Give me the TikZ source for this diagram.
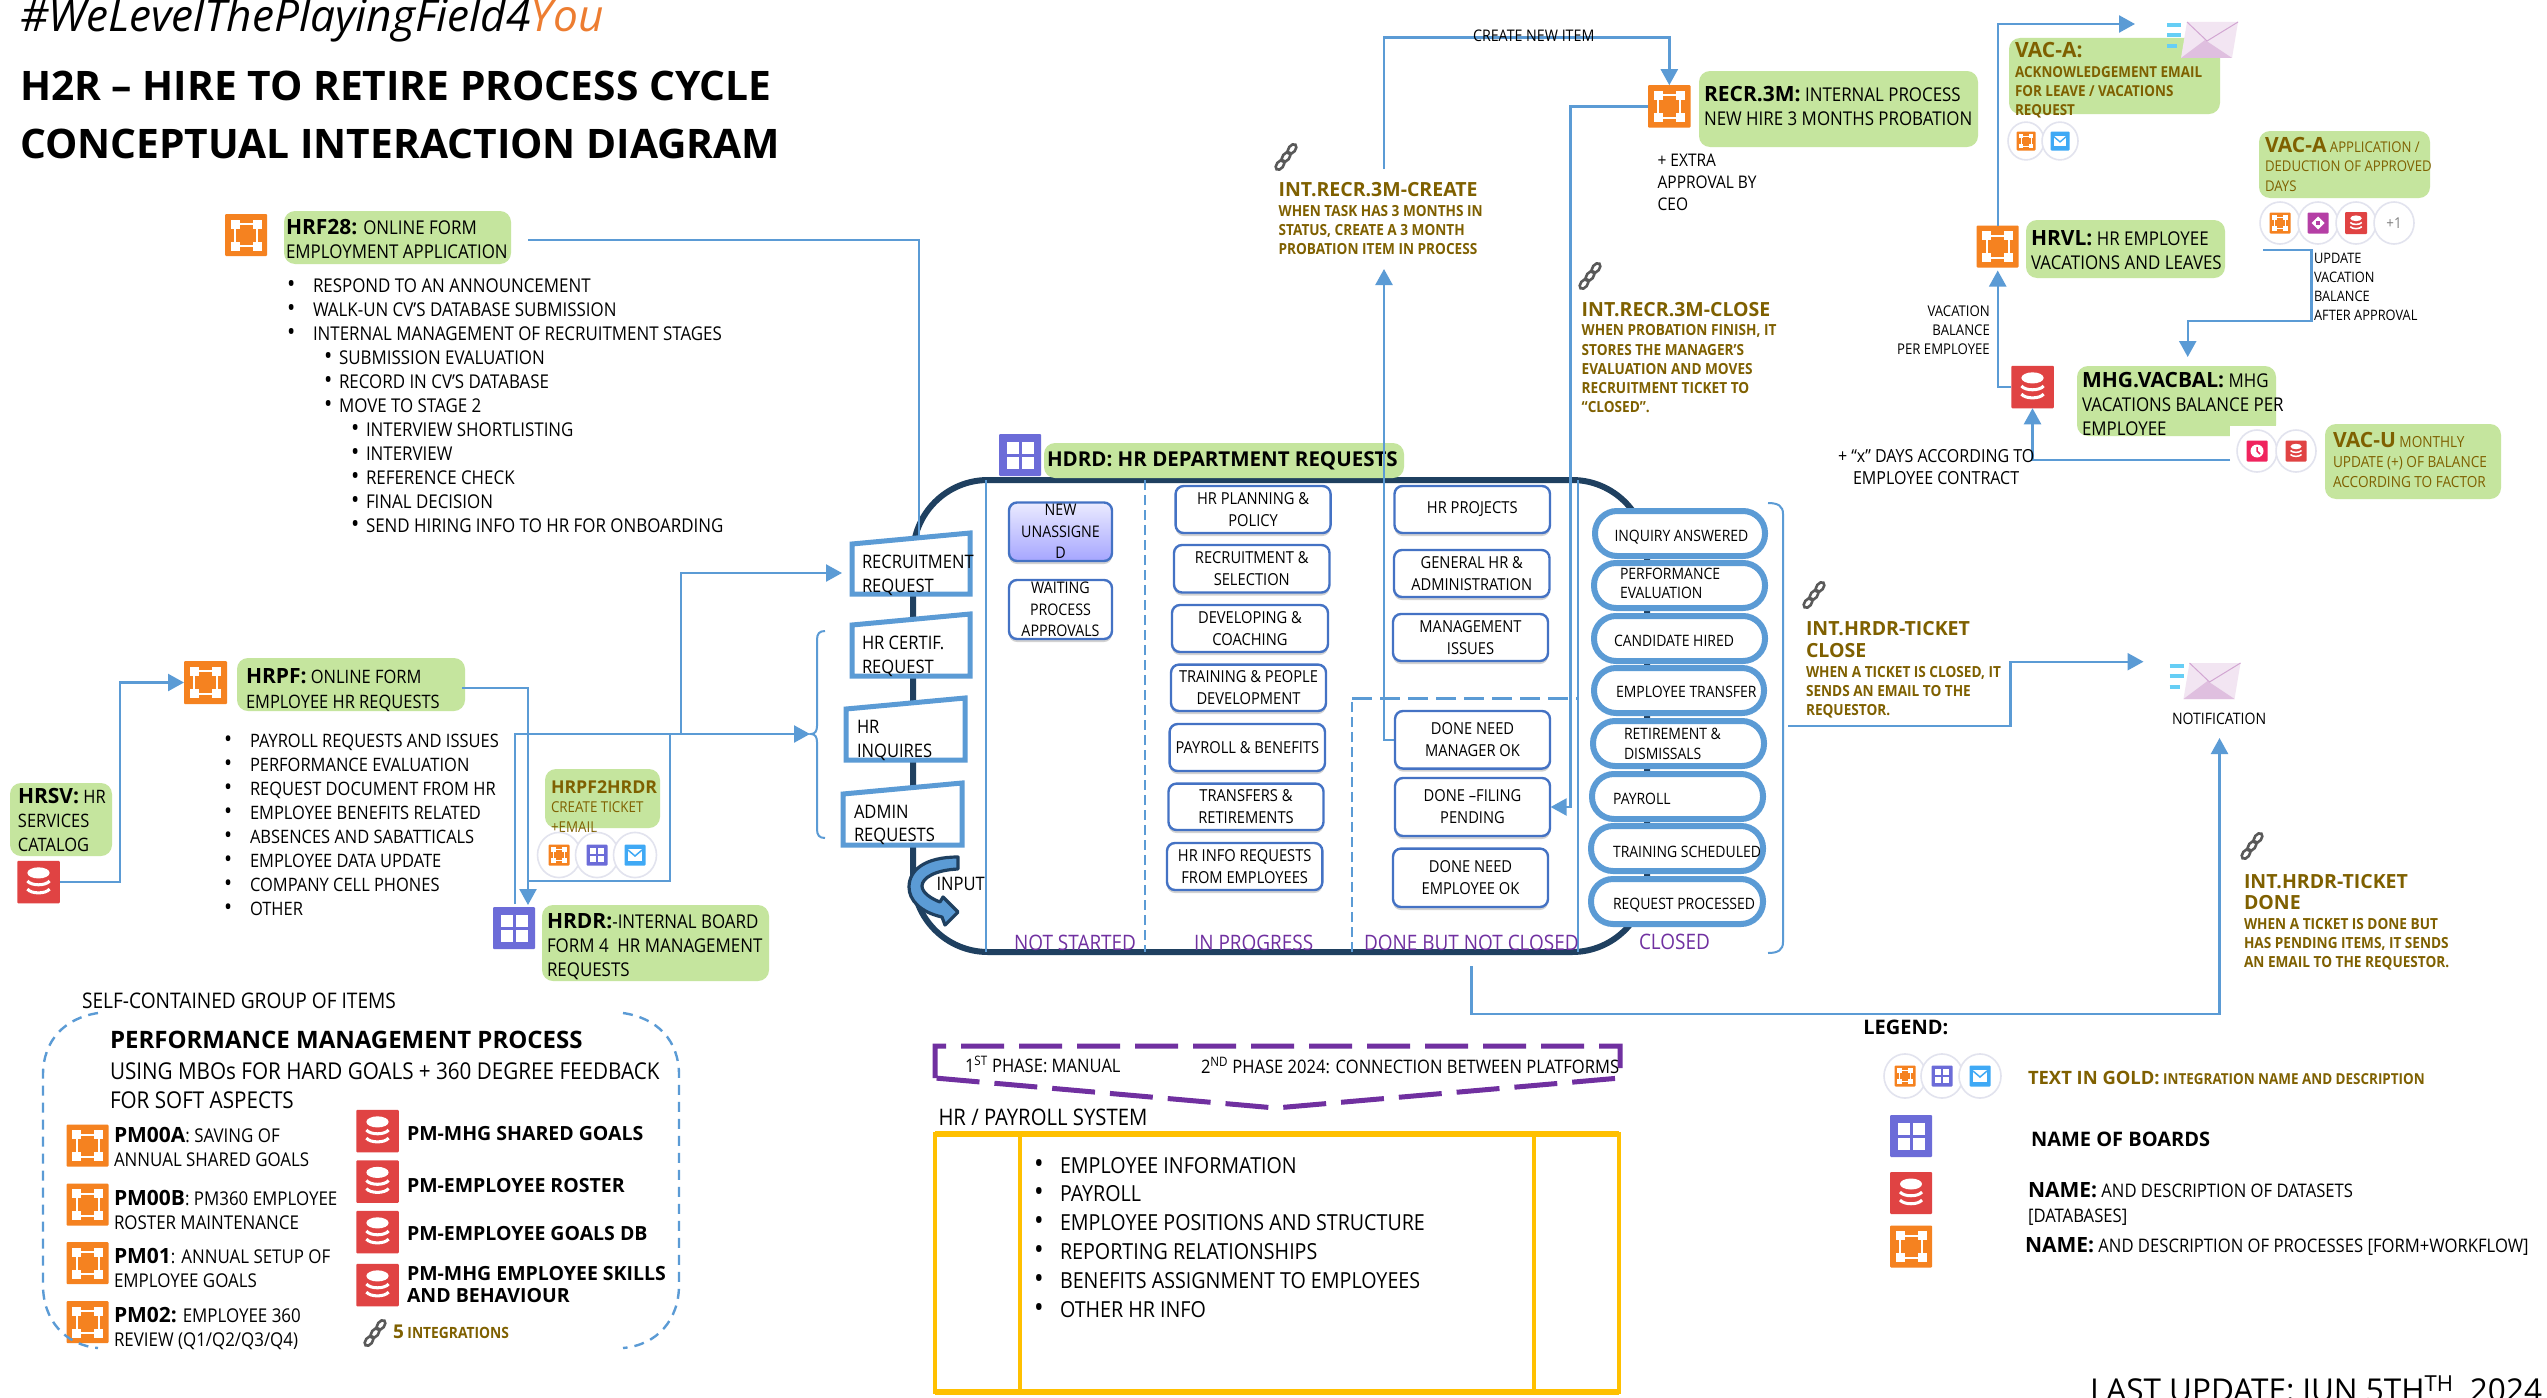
\documentclass[tikz,border=0pt]{standalone}
\usepackage{fontspec}
\setmainfont[FakeStretch=0.89]{Open Sans}
\newfontfamily\wideface{Open Sans}
\usetikzlibrary{arrows.meta,shadows,shapes.geometric}
\definecolor{lineblue}{HTML}{5B9BD5}
\definecolor{navy}{HTML}{1F4060}
\definecolor{leaf}{HTML}{C5E59E}
\definecolor{gold}{HTML}{7F6000}
\definecolor{plum}{HTML}{7030A0}
\definecolor{icoorange}{HTML}{F58220}
\definecolor{icoviolet}{HTML}{6C6CD8}
\definecolor{icored}{HTML}{E04343}
\definecolor{icoblue}{HTML}{3FA9F5}
\definecolor{icomag}{HTML}{B53FA5}
\definecolor{icopink}{HTML}{F0245E}
\definecolor{lav}{HTML}{E2E3EE}
\definecolor{boxblue}{HTML}{4472C4}
\definecolor{amber}{HTML}{FFC000}
\definecolor{youor}{HTML}{ED7D31}
\newcounter{tc}
\newcommand{\TB}[6][]{\stepcounter{tc}\node[txt,#1] (t\thetc) at (#2,#3) {\fontsize{#4}{#5}\selectfont\begin{tabular}[t]{@{}l@{}}#6\end{tabular}};}
\newcommand{\BX}[7][]{\node[#1,inner sep=0pt,outer sep=0pt,minimum width={(#5-(#3))*1pt},minimum height={(#6-(#4))*1pt}] (#2) at ({(#3+#5)/2},{(#4+#6)/2}) {#7};}
\newcommand{\bul}{\scalebox{1.3}{\textbullet}}
\newcommand{\blA}[1]{\makebox[26pt][l]{\bul}#1}
\newcommand{\blB}[1]{\hspace*{37pt}\makebox[15pt][l]{\bul}#1}
\newcommand{\blC}[1]{\hspace*{64pt}\makebox[15pt][l]{\bul}#1}
\newcommand{\bp}[1]{{\wideface\bfseries\fontsize{21}{21}\selectfont #1}}
\newcommand{\IcoProc}[4]{%
  \node[icobg,fill=icoorange,minimum size=#4*1pt] (#1) at (#2,#3) {};
  \pgfmathsetmacro\icols{#4/42}
  \begin{scope}[shift={(#2,#3)},scale=\icols]
    \draw[white,line width=\icols*2pt] (-11,-11) rectangle (11,11);
    \foreach \a/\b in {-11/-11,11/-11,-11/11,11/11}
      \fill[white] (\a-4.5,\b-4.5) rectangle (\a+4.5,\b+4.5);
  \end{scope}}
\newcommand{\IcoBoard}[4]{%
  \node[icobg,fill=icoviolet,minimum size=#4*1pt] (#1) at (#2,#3) {};
  \pgfmathsetmacro\icols{#4/42}
  \begin{scope}[shift={(#2,#3)},scale=\icols]
    \foreach \a/\b in {-7.5/-7.5,7.5/-7.5,-7.5/7.5,7.5/7.5}
      \fill[white] (\a-6,\b-6) rectangle (\a+6,\b+6);
  \end{scope}}
\newcommand{\IcoDB}[4]{%
  \node[icobg,fill=icored,minimum size=#4*1pt] (#1) at (#2,#3) {};
  \pgfmathsetmacro\icols{#4/42}
  \begin{scope}[shift={(#2,#3)},scale=\icols]
    \fill[white] (0,-9) ellipse [x radius=11,y radius=5.5];
    \draw[white,line width=\icols*3pt] (-11,-1) .. controls (-7,4) and (7,4) .. (11,-1);
    \draw[white,line width=\icols*3pt] (-11,7) .. controls (-7,12) and (7,12) .. (11,7);
  \end{scope}}
\newcommand{\IcoMail}[4]{%
  \node[icobg,fill=icoblue,minimum size=#4*1pt] (#1) at (#2,#3) {};
  \pgfmathsetmacro\icols{#4/42}
  \begin{scope}[shift={(#2,#3)},scale=\icols]
    \fill[white] (-14,-12) rectangle (14,12);
    \draw[icoblue,line width=\icols*3pt] (-14,-10) -- (0,2) -- (14,-10);
  \end{scope}}
\newcommand{\IcoMag}[4]{%
  \node[icobg,fill=icomag,minimum size=#4*1pt] (#1) at (#2,#3) {};
  \pgfmathsetmacro\icols{#4/42}
  \begin{scope}[shift={(#2,#3)},scale=\icols]
    \fill[white] (0,-13) -- (13,0) -- (0,13) -- (-13,0) -- cycle;
    \fill[icomag] (-4,-4) rectangle (4,4);
  \end{scope}}
\newcommand{\IcoClock}[4]{%
  \node[icobg,fill=icopink,minimum size=#4*1pt] (#1) at (#2,#3) {};
  \pgfmathsetmacro\icols{#4/42}
  \begin{scope}[shift={(#2,#3)},scale=\icols]
    \fill[white] (0,0) circle (13);
    \draw[icopink,line width=\icols*3pt] (0,-8) -- (0,0) -- (6,6);
  \end{scope}}
\newcommand{\Ring}[5][]{\node[ringstyle,minimum width=#5*2pt,minimum height=#5*2.1pt] (#2) at (#3,#4) {#1};}
\newcommand{\Chain}[3]{%
  \coordinate (#1) at (#2,#3);
  \begin{scope}[shift={(#2,#3)}]
    \foreach \a/\b in {-6/8,0/0,6/-8}
      \draw[gray!70!black,line width=2.6pt] (\a,\b) ellipse [x radius=5.5pt,y radius=3.4pt,rotate=52];
  \end{scope}}
\newcommand{\Envelope}[3]{%
  \coordinate (#1) at (#2,#3);
  \begin{scope}[shift={(#2,#3)}]
    \fill[violet!10] (20,1) -- (71,1) -- (65,37) -- (14,37) -- cycle;
    \fill[violet!25] (14,37) -- (38,19) -- (65,37) -- cycle;
    \draw[violet!35,line width=1pt] (20,1) -- (40,20) -- (71,1);
    \foreach \b/\c in {4/14,14/14,25/10}
      \draw[cyan!60,line width=3.5pt] (0,\b) -- (\c,\b);
  \end{scope}}
\tikzset{
  x=1pt,y=-1pt,
  txt/.style={anchor=base west,inner sep=0pt,outer sep=0pt},
  conn/.style={draw=lineblue,line width=2.4pt},
  arr/.style={-{Triangle[width=17pt,length=16pt]}},
  leafbox/.style={fill=leaf,rounded corners=11pt},
  icobg/.style={inner sep=0pt,outer sep=0pt,rounded corners=1pt},
  ringstyle/.style={ellipse,draw=lav,fill=white,line width=1.6pt,inner sep=0pt,outer sep=0pt,text=gray,font=\fontsize{15}{15}\selectfont},
  whitebox/.style={draw=boxblue,fill=white,line width=2.4pt,rounded corners=8pt,align=center,font=\fontsize{16.5}{22}\selectfont,drop shadow={shadow xshift=0pt,shadow yshift=-3pt,opacity=.35,fill=gray}},
  newbox/.style={draw=boxblue,top color=blue!8,bottom color=blue!35,line width=2.4pt,rounded corners=8pt,align=center,font=\fontsize{16}{21.5}\selectfont,drop shadow={shadow xshift=0pt,shadow yshift=-3pt,opacity=.35,fill=gray}},
  pillbox/.style={draw=lineblue,fill=white,line width=6pt,rounded corners=22pt},
  trap/.style={draw=lineblue,fill=white,line width=5pt,line join=miter},
  colline/.style={draw=lineblue,line width=1.6pt},
  coldash/.style={draw=lineblue,line width=1.6pt,dash pattern=on 10pt off 5pt},
  gold head/.style={text=gold,font=\wideface\bfseries},
  gold body/.style={text=gold,font=\bfseries},
  bold wide/.style={font=\wideface\bfseries},
}
\begin{document}
\begin{tikzpicture}
\useasboundingbox (0,0) rectangle (2547,1397);
\path[fill=white] (0,0) rectangle (2547,1397);

% ---------- header
\TB[font=\wideface\itshape]{20}{32}{44.2}{44}{\#WeLevelThePlayingField4\textcolor{youor}{You}}
\TB[bold wide]{20}{100.7}{40.7}{57.5}{H2R – HIRE TO RETIRE PROCESS CYCLE\\CONCEPTUAL INTERACTION DIAGRAM}

% ---------- main board
\draw[navy,line width=6pt,rounded corners=75pt] (913,480) rectangle (1647,952);
\BX[leafbox]{hdrdbox}{1044}{443}{1404}{478}{}
\draw[colline] (986,480) -- (986,952);
\draw[coldash] (1145,480) -- (1145,952);
\draw[coldash] (1352,952) -- (1352,698.6);
\draw[draw=lineblue,line width=2.4pt,dash pattern=on 20pt off 8pt] (1352,698.6) -- (1578,698.6);
\draw[colline] (1578,480) -- (1578,952);

% ---------- green label boxes
\BX[leafbox]{hrf28box}{284}{211}{511}{264}{}
\BX[leafbox]{hrpfbox}{237}{658}{465}{711}{}
\BX[leafbox]{hrsvbox}{10}{783}{112}{856}{}
\BX[leafbox]{ticketbox}{545}{769}{660}{828}{}
\BX[leafbox]{hrdrbox}{542}{905}{769}{981}{}
\BX[leafbox]{recrbox}{1699}{71}{1978}{147}{}
\BX[leafbox]{vacabox}{2009}{38}{2220}{114}{}
\BX[leafbox]{hrvlbox}{2026}{220}{2225}{278}{}
\BX[leafbox]{vacappbox}{2259}{131}{2430}{198}{}
\BX[leafbox]{mhgbox}{2077}{366}{2276}{436}{}
\BX[fill=white]{mhgnotch}{2230}{426}{2280}{440}{}
\BX[leafbox]{vacubox}{2325}{424}{2501}{499}{}

% ---------- icons
\IcoProc{iconhrf}{246}{235}{42}
\IcoProc{iconhrpf}{205.5}{682.5}{43}
\IcoDB{dbhrsv}{38.5}{882}{42.5}
\IcoBoard{iconhrdr}{514}{928}{42}
\IcoBoard{iconhdrd}{1020}{455}{42}
\IcoProc{iconrecr}{1669.3}{106.4}{42.5}
\IcoProc{iconhrvl}{1997.7}{246.5}{42}
\IcoDB{dbvac}{2032.5}{387}{42.5}
\IcoProc{iconpma}{87.5}{1145.5}{42}
\IcoProc{iconpmb}{87.5}{1204.5}{42}
\IcoProc{iconpmc}{87.5}{1263}{42}
\IcoProc{iconpmd}{87.5}{1322}{42}
\IcoDB{dbpma}{377.5}{1131}{42.5}
\IcoDB{dbpmb}{377.5}{1181.5}{42.5}
\IcoDB{dbpmc}{377.5}{1232}{42.5}
\IcoDB{dbpmd}{377.5}{1285}{42.5}
\IcoBoard{legboard}{1911}{1136}{42}
\IcoDB{legdb}{1911}{1193}{42}
\IcoProc{legproc}{1911}{1246.5}{42}

% ---------- connectors, left part
\coordinate (t1top) at (919,536);
\coordinate (bracein) at (810,734);
\coordinate (reqin) at (842,573);
\coordinate (ticketjoin) at (528,881);
\coordinate (hrdrup) at (515,904);
\draw[conn,arr] (dbhrsv.east) -- (120,882) -- (120,682.5) -- (iconhrpf.west);
\draw[conn] ([xshift=17pt,yshift=-2.5pt]hrf28box.east) -- (919,240) -- (t1top);
\draw[conn,arr] ([xshift=-3pt,yshift=-3.5pt]hrpfbox.east) -- (528,688) -- ([xshift=14pt,yshift=2pt]iconhrdr.north);
\draw[conn,arr] (hrdrup) -- (515,734) -- (bracein);
\draw[conn] (ticketjoin) -- (670,881) -- (670,734);
\draw[conn,arr] (681,734) -- (681,573) -- (reqin);

% ---------- connectors, probation
\coordinate (createin) at (1384,269);
\coordinate (createout) at (1384,169);
\draw[conn,arr] (1395,740) -- (1384,740) -- (createin);
\draw[conn,arr] (createout) -- (1384,37.7) -- (1669.3,37.7) -- (iconrecr.north);
\draw[conn,arr] (iconrecr.west) -- (1570.5,106.4) -- (1570.5,807) -- (1550.6,807);

% ---------- vacations connectors
\coordinate (mailin) at (2135,24);
\coordinate (vacuout) at (2230,460);
\coordinate (updout) at (2263,250);
\coordinate (mhgin) at (2187.7,357);
\draw[conn,arr] (iconhrvl.north) -- (1997.7,24) -- (mailin);
\draw[conn,arr] (dbvac.west) -- (1997.7,387) -- ([yshift=-3pt]iconhrvl.south);
\draw[conn,arr] (vacuout) -- (2032.5,460) -- (dbvac.south);
\draw[conn,arr] (updout) -- (2311.5,250) -- (2311.5,321) -- (2187.7,321) -- (mhgin);

% ---------- output connectors
\coordinate (closeout) at (1788,726);
\coordinate (notifin) at (2143.5,661.7);
\coordinate (boardout) at (1471.5,966);
\coordinate (notifup) at (2219.5,738);
\draw[conn,arr] (closeout) -- (2010.6,726) -- (2010.6,661.7) -- (notifin);
\draw[conn,arr] (boardout) -- (1471.5,1014) -- (2219.5,1014) -- (notifup);

% ---------- braces
\draw[lineblue,line width=2pt] (825,631) .. controls (819,631) and (817,634) .. (817,640) -- (817,726) .. controls (817,731) and (815,734) .. (811,734) .. controls (815,734) and (817,737) .. (817,742) -- (817,829) .. controls (817,835) and (819,838) .. (825,838);
\draw[lineblue,line width=2pt] (1768,503) .. controls (1778,503) and (1783,506) .. (1783,514) -- (1783,942) .. controls (1783,950) and (1778,953) .. (1768,953);

% ---------- input column
\draw[trap] (852,544) -- (970,533) -- (970,594) -- (852,594) -- cycle;
\draw[trap] (852,625) -- (970,614) -- (970,676) -- (852,676) -- cycle;
\draw[trap] (846,709) -- (965,698) -- (965,760) -- (846,760) -- cycle;
\draw[trap] (843,794) -- (962,783) -- (962,845) -- (843,845) -- cycle;
\TB{862}{568.6}{18.6}{24}{RECRUITMENT\\REQUEST}
\TB{862}{649}{18.6}{24.5}{HR CERTIF.\\REQUEST}
\TB{857}{733.6}{18.6}{23.5}{HR\\INQUIRES}
\TB{854}{818}{18.6}{23.5}{ADMIN\\REQUESTS}
\draw[navy,fill=lineblue,line width=3.2pt,line join=round] (958,857) -- (958,869) .. controls (935,870) and (922,878) .. (922,886) .. controls (922,893) and (932,899) .. (940,902) -- (943,897) -- (958,912) -- (945,925) -- (942,917) .. controls (920,912) and (909,900) .. (909,887) .. controls (909,870) and (925,857) .. (958,857) -- cycle;
\TB{936.5}{890}{18.6}{19}{INPUT}

% ---------- column boxes
\BX[newbox]{newitem}{1009}{502.5}{1112}{561}{NEW\\UNASSIGNE\\D}
\BX[whitebox,font=\fontsize{16}{21.5}\selectfont]{waiting}{1009}{580}{1112}{639}{WAITING\\PROCESS\\APPROVALS}
\BX[whitebox]{prga}{1175.6}{486}{1330.6}{533}{HR PLANNING \&\\POLICY}
\BX[whitebox]{prgb}{1174}{545}{1329.5}{592.5}{RECRUITMENT \&\\SELECTION}
\BX[whitebox]{prgc}{1172}{605}{1328}{652}{DEVELOPING \&\\COACHING}
\BX[whitebox]{prgd}{1171}{664.6}{1326}{711}{TRAINING \& PEOPLE\\DEVELOPMENT}
\BX[whitebox]{prge}{1169.6}{724}{1325}{771}{PAYROLL \& BENEFITS}
\BX[whitebox]{prgf}{1168.5}{783.6}{1323.5}{830}{TRANSFERS \&\\RETIREMENTS}
\BX[whitebox]{prgg}{1167}{843}{1322.4}{890}{HR INFO REQUESTS\\FROM EMPLOYEES}
\BX[whitebox]{prja}{1394.5}{486}{1550}{533}{HR PROJECTS}
\BX[whitebox]{prjb}{1394}{550}{1549.5}{597}{GENERAL HR \&\\ADMINISTRATION}
\BX[whitebox]{prjc}{1393}{614}{1548}{661}{MANAGEMENT\\ISSUES}
\BX[whitebox]{c4}{1395}{711}{1550}{768.6}{DONE NEED\\MANAGER OK}
\BX[whitebox]{c5}{1395}{778}{1550}{836}{DONE –FILING\\PENDING}
\BX[whitebox]{c6}{1393}{848.6}{1548}{907}{DONE NEED\\EMPLOYEE OK}

% ---------- closed pills
\BX[pillbox]{pa}{1595}{511}{1765}{556}{}
\BX[pillbox]{pb}{1594}{563}{1765}{608}{}
\BX[pillbox]{pc}{1594}{616}{1765}{661}{}
\BX[pillbox]{pd}{1594}{668}{1764}{713}{}
\BX[pillbox]{pe}{1593}{721}{1764}{766}{}
\BX[pillbox]{pf}{1592}{774}{1763}{819}{}
\BX[pillbox]{pg}{1591}{826}{1763}{871}{}
\BX[pillbox]{ph}{1591}{879}{1763}{924}{}
\TB{1614.5}{541.7}{15.7}{15}{INQUIRY ANSWERED}
\TB{1620}{579}{15.7}{19}{PERFORMANCE\\EVALUATION}
\TB{1614}{646}{15.7}{15}{CANDIDATE HIRED}
\TB{1616}{697}{15.7}{15}{EMPLOYEE TRANSFER}
\TB{1624}{739}{15.7}{20}{RETIREMENT \&\\DISMISSALS}
\TB{1613}{804}{15.7}{15}{PAYROLL}
\TB{1613}{857}{15.7}{15}{TRAINING SCHEDULED}
\TB{1613}{909}{15.7}{15}{REQUEST PROCESSED}

% ---------- column titles
\TB[text=plum]{1014}{950}{21.3}{21}{NOT STARTED}
\TB[text=plum]{1194}{950}{21.3}{21}{IN PROGRESS}
\TB[text=plum]{1364}{950}{21.3}{21}{DONE BUT NOT CLOSED}
\TB[text=plum]{1639}{949}{21.3}{21}{CLOSED}

% ---------- label texts
\TB[bold wide]{1047}{466}{20.5}{22}{HDRD: HR DEPARTMENT REQUESTS}
\draw[conn] (1384,443) -- (1384,478);
\TB{286}{234}{19}{24}{\bp{HRF28:} ONLINE FORM\\EMPLOYMENT APPLICATION}
\TB{287}{292}{19}{24}{\blA{RESPOND TO AN ANNOUNCEMENT}\\\blA{WALK-UN CV’S DATABASE SUBMISSION}\\\blA{INTERNAL MANAGEMENT OF RECRUITMENT STAGES}\\\blB{SUBMISSION EVALUATION}\\\blB{RECORD IN CV’S DATABASE}\\\blB{MOVE TO STAGE 2}\\\blC{INTERVIEW SHORTLISTING}\\\blC{INTERVIEW}\\\blC{REFERENCE CHECK}\\\blC{FINAL DECISION}\\\blC{SEND HIRING INFO TO HR FOR ONBOARDING}}
\TB{246}{683}{18.5}{25}{\bp{HRPF:} ONLINE FORM\\EMPLOYEE HR REQUESTS}
\TB{18}{803}{18.5}{24}{\bp{HRSV:} HR\\SERVICES\\CATALOG}
\TB{224}{747}{18.5}{24}{\blA{PAYROLL REQUESTS AND ISSUES}\\\blA{PERFORMANCE EVALUATION}\\\blA{REQUEST DOCUMENT FROM HR}\\\blA{EMPLOYEE BENEFITS RELATED}\\\blA{ABSENCES AND SABATTICALS}\\\blA{EMPLOYEE DATA UPDATE}\\\blA{COMPANY CELL PHONES}\\\blA{OTHER}}
\TB[text=gold]{551}{793}{15}{19.5}{{\wideface\bfseries\fontsize{17.7}{18}\selectfont HRPF2HRDR}\\CREATE TICKET\\+EMAIL}
\TB{547}{928}{19}{24}{\bp{HRDR:}-INTERNAL BOARD\\FORM 4\ \ HR MANAGEMENT\\REQUESTS}
\Ring{ra}{559}{855}{21.5}\IcoProc{ria}{559}{855}{21}
\Ring{rb}{597}{855}{21.5}\IcoBoard{rib}{597}{855}{21}
\Ring{rc}{635}{855}{21.5}\IcoMail{ric}{635}{855}{21}

% ---------- right part texts
\TB{1473}{42}{16}{16}{CREATE NEW ITEM}
\TB{1704}{101.7}{19}{24.3}{\bp{RECR.3M:} INTERNAL PROCESS\\NEW HIRE 3 MONTHS PROBATION}
\TB{1657.6}{166}{17.4}{22}{+ EXTRA\\APPROVAL BY\\CEO}
\Chain{chaina}{1286}{157}
\TB[gold head]{1278.6}{196}{19.5}{18}{INT.RECR.3M-CREATE}
\TB[gold body]{1278.6}{216.7}{15.3}{19}{WHEN TASK HAS 3 MONTHS IN\\STATUS, CREATE A 3 MONTH\\PROBATION ITEM IN PROCESS}
\Chain{chainb}{1590}{276}
\TB[gold head]{1581.7}{316}{19.5}{18}{INT.RECR.3M-CLOSE}
\TB[gold body]{1581.7}{335.7}{15.3}{19.3}{WHEN PROBATION FINISH, IT\\STORES THE MANAGER’S\\EVALUATION AND MOVES\\RECRUITMENT TICKET TO\\“CLOSED”.}
\Envelope{mailtop}{2167}{21}
\TB[gold body]{2015}{58}{15.1}{19.3}{{\wideface\fontsize{21}{20}\selectfont VAC-A:}\\ACKNOWLEDGEMENT EMAIL\\FOR LEAVE / VACATIONS\\REQUEST}
\Ring{rd}{2026}{141}{18}\IcoProc{rid}{2026}{141}{19}
\Ring{re}{2060}{141}{18}\IcoMail{rie}{2060}{141}{19}
\TB{2031}{245}{19}{24}{\bp{HRVL:} HR EMPLOYEE\\VACATIONS AND LEAVES}
\TB[text=gold]{2265}{152}{14.8}{19.5}{\bp{VAC-A} APPLICATION /\\DEDUCTION OF APPROVED\\DAYS}
\Ring{rf}{2280}{223}{20}\IcoProc{rif}{2280}{223}{21}
\Ring{rg}{2318}{223}{20}\IcoMag{rig}{2318}{223}{21}
\Ring{rh}{2356}{223}{20}\IcoDB{rih}{2356}{223}{22}
\Ring[+1]{ri}{2394}{223}{20}
\TB{2314}{263}{14.4}{19}{UPDATE\\VACATION\\BALANCE\\AFTER APPROVAL}
\node[anchor=base east,inner sep=0pt,font=\fontsize{14.8}{19}\selectfont] (vacbal) at (1990,354) {PER EMPLOYEE};
\node[anchor=base east,inner sep=0pt,font=\fontsize{14.8}{19}\selectfont] (vacbalb) at (1990,335) {BALANCE};
\node[anchor=base east,inner sep=0pt,font=\fontsize{14.8}{19}\selectfont] (vacbalc) at (1990,316) {VACATION};
\TB{2082}{387}{19}{24}{\bp{MHG.VACBAL:} MHG\\VACATIONS BALANCE PER\\EMPLOYEE}
\TB{1838}{462}{18}{22}{+ “x” DAYS ACCORDING TO\\\hspace*{15pt}EMPLOYEE CONTRACT}
\Ring{rj}{2257}{451}{20}\IcoClock{rij}{2257}{451}{21}
\Ring{rk}{2296}{451}{20}\IcoDB{rik}{2296}{451}{21}
\TB[text=gold]{2333}{447}{15.3}{20}{\bp{VAC-U} MONTHLY\\UPDATE (+) OF BALANCE\\ACCORDING TO FACTOR}
\Chain{chainc}{1814}{595}
\TB[gold head]{1806}{635}{19.5}{22}{INT.HRDR-TICKET\\CLOSE}
\TB[gold body]{1806}{677}{15.3}{19}{WHEN A TICKET IS CLOSED, IT\\SENDS AN EMAIL TO THE\\REQUESTOR.}
\Envelope{mailnotif}{2169.5}{662}
\TB{2172}{724}{15.8}{15}{NOTIFICATION}
\Chain{chaind}{2252}{846}
\TB[gold head]{2244}{888}{19.5}{21}{INT.HRDR-TICKET\\DONE}
\TB[gold body]{2244}{929}{15.3}{19}{WHEN A TICKET IS DONE BUT\\HAS PENDING ITEMS, IT SENDS\\AN EMAIL TO THE REQUESTOR.}

% ---------- performance management group
\TB{82}{1008}{21.5}{19}{SELF-CONTAINED GROUP OF ITEMS}
\draw[lineblue,line width=2.4pt,dash pattern=on 10pt off 7pt] (98,1013) .. controls (65,1018) and (43,1040) .. (43,1075) -- (43,1285) .. controls (43,1320) and (65,1345) .. (98,1348);
\draw[lineblue,line width=2.4pt,dash pattern=on 10pt off 7pt] (623,1013) .. controls (657,1018) and (679,1040) .. (679,1075) -- (679,1285) .. controls (679,1320) and (657,1345) .. (623,1348);
\TB[bold wide]{110}{1048}{24}{23}{PERFORMANCE MANAGEMENT PROCESS}
\TB{110}{1079}{23.2}{29}{USING MBOs FOR HARD GOALS + 360 DEGREE FEEDBACK\\FOR SOFT ASPECTS}
\TB{114}{1142}{19}{24}{\bp{PM00A}: SAVING OF\\ANNUAL SHARED GOALS}
\TB{114}{1205}{19}{24}{\bp{PM00B}: PM360 EMPLOYEE\\ROSTER MAINTENANCE}
\TB{114}{1263}{19}{24}{\bp{PM01}: ANNUAL SETUP OF\\EMPLOYEE GOALS}
\TB{114}{1322}{19}{24}{\bp{PM02:} EMPLOYEE 360\\REVIEW (Q1/Q2/Q3/Q4)}
\TB[bold wide]{407}{1140}{19.5}{19}{PM-MHG SHARED GOALS}
\TB[bold wide]{407}{1192}{19.5}{19}{PM-EMPLOYEE ROSTER}
\TB[bold wide]{407}{1240}{19.5}{19}{PM-EMPLOYEE GOALS DB}
\TB[bold wide]{407}{1280}{19.5}{22}{PM-MHG EMPLOYEE SKILLS\\AND BEHAVIOUR}
\Chain{chaine}{375}{1333}
\TB[gold body]{393}{1338}{15.5}{14}{{\wideface\fontsize{19}{19}\selectfont 5} INTEGRATIONS}

% ---------- phase + HR system
\draw[plum,line width=5pt,dash pattern=on 43pt off 15pt] (935,1078) -- (935,1046) -- (1620,1046) -- (1620,1078) -- (1275.5,1108) -- cycle;
\TB{965}{1072}{18.6}{18}{1\textsuperscript{ST} PHASE: MANUAL}
\TB{1201}{1073}{18.6}{18}{2\textsuperscript{ND} PHASE 2024: CONNECTION BETWEEN PLATFORMS}
\TB{938.5}{1125}{22.8}{20}{HR / PAYROLL SYSTEM}
\draw[amber,line width=4pt] (935,1134) rectangle (1619,1392);
\draw[amber,line width=4pt] (1020,1134) -- (1020,1392);
\draw[amber,line width=4pt] (1534,1134) -- (1534,1392);
\draw[amber,line width=6pt] (935,1134) -- (1619,1134);
\draw[amber,line width=6pt] (935,1392) -- (1619,1392);
\TB{1034}{1173}{22.1}{28.8}{\blA{EMPLOYEE INFORMATION}\\\blA{PAYROLL}\\\blA{EMPLOYEE POSITIONS AND STRUCTURE}\\\blA{REPORTING RELATIONSHIPS}\\\blA{BENEFITS ASSIGNMENT TO EMPLOYEES}\\\blA{OTHER HR INFO}}

% ---------- legend
\TB[bold wide]{1863.4}{1034}{20}{19}{LEGEND:}
\Ring{la}{1905}{1076}{21}\IcoProc{lia}{1905}{1076}{21}
\Ring{lb}{1942}{1076}{21}\IcoBoard{lib}{1942}{1076}{21}
\Ring{lc}{1980}{1076}{21}\IcoMail{lic}{1980}{1076}{21}
\TB[gold body]{2028}{1084}{15.1}{16}{{\wideface\fontsize{18.4}{18}\selectfont TEXT IN GOLD:} INTEGRATION NAME AND DESCRIPTION}
\TB[bold wide]{2031}{1146}{20}{20}{NAME OF BOARDS}
\TB{2028}{1197}{18.7}{25}{\bp{NAME:} AND DESCRIPTION OF DATASETS\\{[}DATABASES]}
\TB{2025}{1252}{18.7}{18}{\bp{NAME:} AND DESCRIPTION OF PROCESSES [FORM+WORKFLOW]}
\TB[font=\wideface]{2090}{1401}{31.5}{32}{LAST UPDATE: JUN 5TH\textsuperscript{TH}\ \ 2024}
\end{tikzpicture}
\end{document}
